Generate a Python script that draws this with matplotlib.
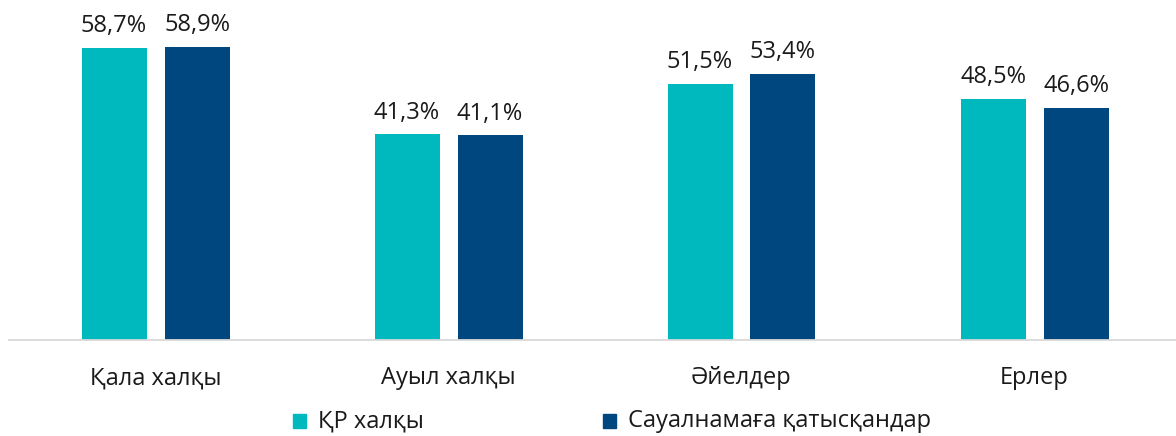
import matplotlib
matplotlib.use("Agg")
import matplotlib.pyplot as plt
from matplotlib.patches import Rectangle

categories = ["Қала халқы", "Ауыл халқы", "Әйелдер", "Ерлер"]
series_names = ["ҚР халқы", "Сауалнамаға қатысқандар"]
kr_values = [58.7, 41.3, 51.5, 48.5]
survey_values = [58.9, 41.1, 53.4, 46.6]
colors = ["#00B9BF", "#00477F"]

plt.rcParams['font.family'] = ['Open Sans', 'Noto Sans', 'DejaVu Sans']

W, H = 1176, 436
fig = plt.figure(figsize=(W / 100, H / 100), dpi=100)
ax = fig.add_axes([9 / W, (H - 340) / H, (W - 9) / W, 340 / H])

x = list(range(len(categories)))
bw = 65 / 293
off = 41.5 / 293
for vals, sign, c in [(kr_values, -1, colors[0]), (survey_values, 1, colors[1])]:
    xs = [xi + sign * off for xi in x]
    bars = ax.bar(xs, vals, width=bw, color=c, zorder=2)
    for b, v in zip(bars, vals):
        ax.annotate(f"{v:.1f}%".replace(".", ","), (b.get_x() + b.get_width() / 2, v),
                    xytext=(0, 7), textcoords="offset points", ha="center", va="bottom",
                    fontsize=17, color="#1a1a1a")

ax.set_xlim(-0.5, (W - 9) / 293 - 0.5)
ax.set_ylim(0, 68.3)
ax.set_yticks([])
ax.set_xticks(x)
ax.set_xticklabels(categories, fontsize=17, color="#1a1a1a")
ax.tick_params(axis="x", length=0, pad=19)
for s in ["top", "right", "left"]:
    ax.spines[s].set_visible(False)
ax.spines["bottom"].set_color("#D9D9D9")
ax.spines["bottom"].set_linewidth(1.3)

# legend
ly = 421
for (lx, tx), name, c in zip([(293, 318), (603, 628)], series_names, colors):
    fig.patches.append(Rectangle((lx / W, (H - ly - 7) / H), 13 / W, 14 / H,
                                 transform=fig.transFigure, color=c))
    fig.text(tx / W, (H - ly) / H, name, fontsize=17, color="#1a1a1a", va="center", ha="left")

fig.savefig("out.png", dpi=100)
